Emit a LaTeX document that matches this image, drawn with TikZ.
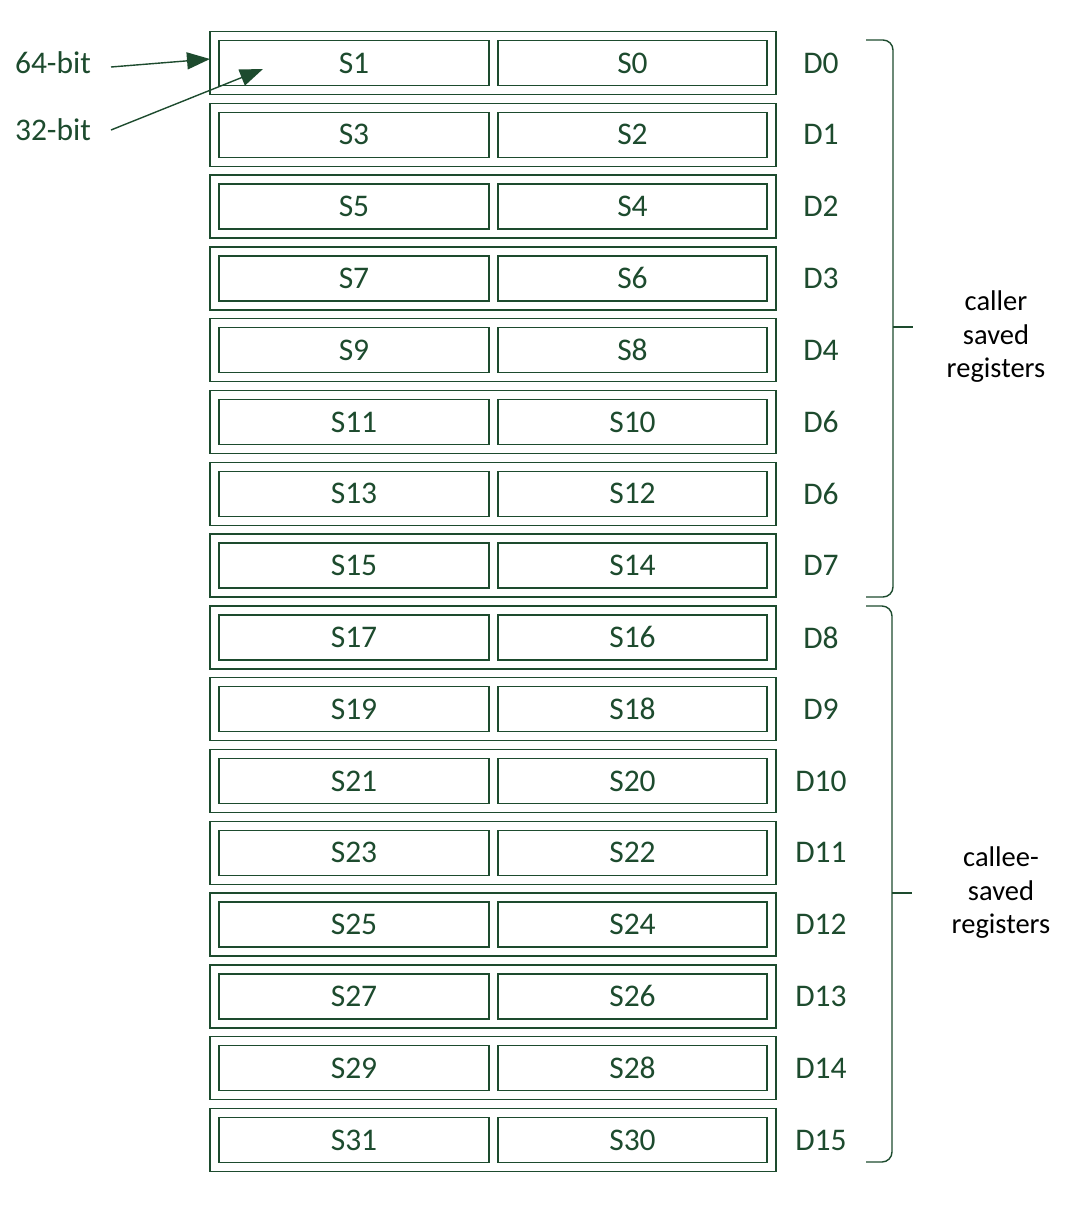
\documentclass[tikz,border=0pt]{standalone}
\usepackage{fontspec}
\setmainfont{Carlito}
\usepackage{xcolor}
\usetikzlibrary{arrows.meta}
\definecolor{regGreen}{HTML}{1D4B2E}

\begin{document}
\begin{tikzpicture}[x=1pt,y=-1pt,line width=1.4pt,
    dreg/.style={draw=regGreen,minimum width=566pt,minimum height=63pt,inner sep=0pt},
    sreg/.style={draw=regGreen,text=regGreen,minimum width=270pt,minimum height=45pt,inner sep=0pt,font=\fontsize{31.5}{36}\selectfont},
    lbl/.style={text=regGreen,font=\fontsize{31.5}{36}\selectfont},
    note/.style={align=center,font=\fontsize{28.5}{33.5}\selectfont}]
    \useasboundingbox (0,0) rectangle (1076,1211);
    % register file
    \foreach \d [count=\i from 0] in {0,1,2,3,4,6,6,7,8,9,10,11,12,13,14,15} {
        \pgfmathsetmacro{\y}{63+71.8*\i}
        \pgfmathtruncatemacro{\hi}{2*\i+1}
        \pgfmathtruncatemacro{\lo}{2*\i}
        \node[dreg] (row\i) at (493,\y) {};
        \node[sreg] (s\hi) at (354,\y) {S\hi};
        \node[sreg,minimum width=269pt] (s\lo) at (632.5,\y) {S\lo};
        \node[lbl] (d\i) at (821,\y) {D\d};
    }
    % width labels
    \node[lbl] (bit64) at (53,63) {64-bit};
    \node[lbl] (bit32) at (53,130) {32-bit};
    \coordinate (from64) at (111,67);
    \coordinate (tip64) at (210,59);
    \coordinate (from32) at (111,130);
    \coordinate (tip32) at (263,69);
    \draw[regGreen,-{Triangle[length=23pt,width=17pt]}] (from64) -- (tip64);
    \draw[regGreen,-{Triangle[length=23pt,width=17pt]}] (from32) -- (tip32);
    % braces
    \draw[regGreen,rounded corners=10pt] (866,40) -- (893,40) -- (893,597) -- (866,597);
    \draw[regGreen] (893,327) -- (913,327);
    \draw[regGreen,rounded corners=10pt] (866,606) -- (892,606) -- (892,1162) -- (866,1162);
    \draw[regGreen] (892,893) -- (912,893);
    \node[note] (caller) at (996,337) {caller\\saved\\registers};
    \node[note] (callee) at (1001,893) {callee-\\saved\\registers};
\end{tikzpicture}
\end{document}
